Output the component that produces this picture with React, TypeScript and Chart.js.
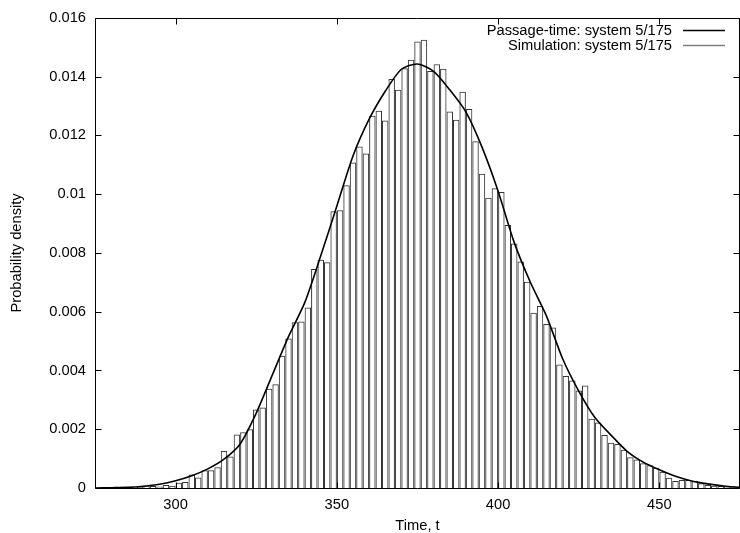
import React, { useEffect, useRef } from "react";
import { Chart, registerables } from "chart.js";

Chart.register(...registerables);

const FONT = '"Liberation Sans", Arial, Helvetica, sans-serif';
const FSIZE = 14.7;

// Histogram (simulation): bin centres (bin width 2) and densities
const binCenters = [
  285, 287, 289, 291, 293, 295, 297, 299, 301, 303, 305, 307, 309, 311, 313, 315, 317, 319, 321, 323,
  325, 327, 329, 331, 333, 335, 337, 339, 341, 343, 345, 347, 349, 351, 353, 355, 357, 359, 361, 363,
  365, 367, 369, 371, 373, 375, 377, 379, 381, 383, 385, 387, 389, 391, 393, 395, 397, 399, 401, 403,
  405, 407, 409, 411, 413, 415, 417, 419, 421, 423, 425, 427, 429, 431, 433, 435, 437, 439, 441, 443,
  445, 447, 449, 451, 453, 455, 457, 459, 461, 463, 465, 467, 469, 471, 473,
];
const simValues = [
  0.00002, 0.00002, 0.00004, 0.00006, 0.00007, 0.00005, 0.0001, 0.00008, 0.00018, 0.0002,
  0.00046, 0.00036, 0.0006, 0.0006, 0.00071, 0.00126, 0.00107, 0.00182, 0.0019, 0.002,
  0.00267, 0.00274, 0.00338, 0.00353, 0.0045, 0.00509, 0.00564, 0.00567, 0.00614, 0.00745,
  0.00777, 0.00768, 0.00942, 0.00945, 0.0103, 0.01108, 0.01162, 0.01138, 0.01267, 0.01284,
  0.01251, 0.01392, 0.01355, 0.01428, 0.01457, 0.01519, 0.01525, 0.01419, 0.01442, 0.01427,
  0.01281, 0.01253, 0.01348, 0.0129, 0.0118, 0.01069, 0.00988, 0.0102, 0.01007, 0.00895,
  0.00832, 0.00771, 0.00702, 0.00596, 0.00619, 0.00558, 0.00546, 0.0042, 0.00381, 0.00366,
  0.00332, 0.00349, 0.00236, 0.00223, 0.0018, 0.00154, 0.0015, 0.0013, 0.00105, 0.00097,
  0.00084, 0.00077, 0.00069, 0.00055, 0.00035, 0.00024, 0.00027, 0.00027, 0.00025, 0.00016,
  0.0001, 0.00008, 0.00007, 0.00005, 0.00004,
];

// Passage-time density curve
const curveTimes = [
  275, 280, 285, 290, 295, 300, 305, 310, 315, 320, 325, 330, 335, 340, 345, 350, 355, 360, 365, 370,
  375, 380, 385, 390, 395, 400, 405, 410, 415, 420, 425, 430, 435, 440, 445, 450, 455, 460, 465, 470, 475,
];
const curveValues = [
  0.0, 0.00001, 0.00002, 0.00006, 0.00013, 0.00025, 0.00042, 0.00065, 0.00098, 0.0015,
  0.00255, 0.00385, 0.00515, 0.0063, 0.0079, 0.0096, 0.0113, 0.01255, 0.0135, 0.01425,
  0.01443, 0.01418, 0.01355, 0.0128, 0.0116, 0.0101, 0.00835, 0.007, 0.00585, 0.0044,
  0.0033, 0.0024, 0.0018, 0.00125, 0.00088, 0.00062, 0.0004, 0.00024, 0.00014, 0.00007, 0.00002,
];

const xTicks = [300, 350, 400, 450];
const xMin = 275;
const xMax = 475;
const yMin = 0;
const yMax = 0.016;
const yStep = 0.002;

const seriesLabels = ["Passage-time: system 5/175", "Simulation: system 5/175"];
const seriesColors = ["#000000", "#808080"];

const framePlugin = {
  id: "gpFrame",
  afterDatasetsDraw(chart: any) {
    const { ctx, chartArea } = chart;
    const { left, right, top, bottom } = chartArea;
    const xs = chart.scales.x;
    const ys = chart.scales.y;
    const L = Math.round(left) + 0.5;
    const T = Math.round(top) + 0.5;
    const B = Math.round(bottom) + 0.5;
    const R = Math.round(right) - 0.5;
    ctx.save();
    ctx.strokeStyle = "#000";
    ctx.lineWidth = 1;
    ctx.beginPath();
    ctx.moveTo(R, T);
    ctx.lineTo(L, T);
    ctx.lineTo(L, B);
    ctx.lineTo(R, B);
    ctx.lineTo(R, T);
    const tl = 6;
    xs.ticks.forEach((t: any) => {
      const px = Math.round(xs.getPixelForValue(t.value)) + 0.5;
      ctx.moveTo(px, B);
      ctx.lineTo(px, B - tl);
      ctx.moveTo(px, T);
      ctx.lineTo(px, T + tl);
    });
    ys.ticks.forEach((t: any) => {
      const py = Math.round(ys.getPixelForValue(t.value)) + 0.5;
      ctx.moveTo(L, py);
      ctx.lineTo(L + tl, py);
      ctx.moveTo(R, py);
      ctx.lineTo(R - tl, py);
    });
    ctx.stroke();
    ctx.restore();
  },
};

const legendPlugin = {
  id: "gpLegend",
  afterDraw(chart: any) {
    const { ctx, chartArea } = chart;
    ctx.save();
    ctx.font = `${FSIZE}px ${FONT}`;
    ctx.textAlign = "right";
    ctx.textBaseline = "middle";
    chart.data.datasets.forEach((ds: any, i: number) => {
      const y = Math.round(chartArea.top + 12 + i * 15) + 0.5;
      ctx.fillStyle = "#000";
      ctx.fillText(ds.label, chartArea.right - 68, y);
      ctx.strokeStyle = seriesColors[i];
      ctx.lineWidth = 1.5;
      ctx.beginPath();
      ctx.moveTo(chartArea.right - 57, y);
      ctx.lineTo(chartArea.right - 15, y);
      ctx.stroke();
    });
    ctx.restore();
  },
};

export default function App() {
  const canvasRef = useRef<HTMLCanvasElement | null>(null);

  useEffect(() => {
    if (!canvasRef.current) return;
    Chart.defaults.font.family = FONT;
    const chart = new Chart(canvasRef.current, {
      type: "bar",
      data: {
        datasets: [
          {
            type: "line",
            label: seriesLabels[0],
            data: curveTimes.map((t, i) => ({ x: t, y: curveValues[i] })),
            borderColor: seriesColors[0],
            borderWidth: 1.6,
            pointRadius: 0,
            tension: 0.25,
            fill: false,
            order: 0,
          } as any,
          {
            type: "bar",
            label: seriesLabels[1],
            data: binCenters.map((c, i) => ({ x: c, y: simValues[i] })),
            backgroundColor: "rgba(255,255,255,0)",
            borderColor: "#353535",
            borderWidth: 1,
            inflateAmount: 0,
            barPercentage: 1,
            categoryPercentage: 1,
            order: 1,
          } as any,
        ],
      },
      options: {
        animation: false,
        responsive: false,
        maintainAspectRatio: false,
        layout: { padding: { top: 16, left: 0, right: 0, bottom: 0 } },
        plugins: {
          legend: { display: false },
          tooltip: { enabled: false },
        },
        scales: {
          x: {
            type: "linear",
            min: xMin,
            max: xMax,
            offset: false,
            afterBuildTicks: (s: any) => {
              s.ticks = xTicks.map((v) => ({ value: v }));
            },
            afterFit: (s: any) => {
              s.height = 45;
            },
            grid: { display: false, drawTicks: false, offset: false },
            border: { display: false },
            ticks: {
              color: "#000",
              font: { size: FSIZE, family: FONT },
              padding: 8,
              maxRotation: 0,
              autoSkip: false,
            },
            title: {
              display: true,
              text: "Time, t",
              color: "#000",
              font: { size: FSIZE, family: FONT },
              padding: { top: 0, bottom: -2 },
            },
          },
          y: {
            type: "linear",
            min: yMin,
            max: yMax,
            afterFit: (s: any) => {
              s.width = 95;
            },
            grid: { display: false, drawTicks: false },
            border: { display: false },
            ticks: {
              stepSize: yStep,
              color: "#000",
              font: { size: FSIZE, family: FONT },
              padding: 9,
              callback: (v: any) => String(Number(Number(v).toFixed(3))),
            },
            title: {
              display: true,
              text: "Probability density",
              color: "#000",
              font: { size: FSIZE, family: FONT },
              padding: { top: 8, bottom: 0 },
            },
          },
        },
      } as any,
      plugins: [framePlugin, legendPlugin],
    });
    return () => chart.destroy();
  }, []);

  return (
    <div style={{ position: "fixed", left: 0, top: 0, width: 740, height: 533, background: "#fff" }}>
      <canvas ref={canvasRef} width={740} height={533} style={{ display: "block" }} />
    </div>
  );
}
